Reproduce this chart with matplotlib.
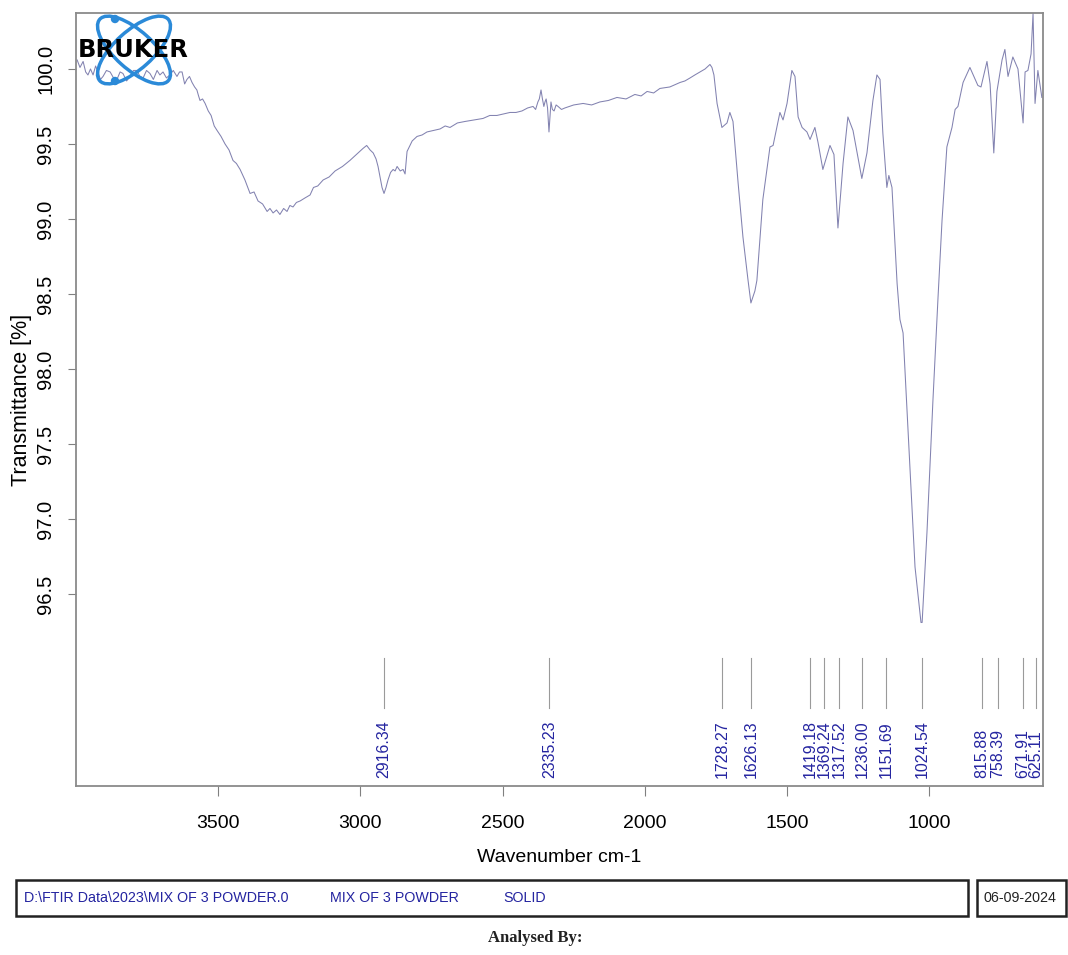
import matplotlib
matplotlib.use("Agg")
import matplotlib.pyplot as plt
from matplotlib.patches import Ellipse, Rectangle, Circle

# spectrum (wavenumber cm-1, transmittance %)
wavenumber = [
    3996, 3986, 3975, 3966, 3958, 3949, 3940, 3931, 3923, 3914, 3905, 3893,
    3880, 3868, 3856, 3845, 3835, 3822, 3810, 3798, 3786, 3775, 3764, 3752,
    3740, 3728, 3715, 3705, 3694, 3682, 3670, 3658, 3645, 3636, 3627, 3618,
    3610, 3601, 3592, 3583, 3575, 3569, 3564, 3555, 3546, 3535, 3525, 3514,
    3504, 3490, 3476, 3462, 3448, 3436, 3423, 3406, 3388, 3374, 3360, 3344,
    3328, 3318, 3307, 3295, 3283, 3270, 3258, 3248, 3237, 3225, 3212, 3195,
    3177, 3165, 3150, 3131, 3110, 3089, 3063, 3037, 3014, 2991, 2978, 2966,
    2955, 2945, 2938, 2931, 2924, 2917, 2910, 2903, 2894, 2885, 2878, 2871,
    2860, 2850, 2843, 2836, 2818, 2801, 2783, 2766, 2743, 2720, 2702, 2685,
    2659, 2632, 2601, 2569, 2545, 2520, 2497, 2474, 2453, 2432, 2412, 2393,
    2384, 2376, 2371, 2365, 2360, 2355, 2351, 2347, 2342, 2337, 2333, 2330,
    2325, 2319, 2312, 2305, 2293, 2281, 2250, 2217, 2187, 2158, 2128, 2098,
    2066, 2035, 2013, 1992, 1969, 1947, 1912, 1876, 1859, 1841, 1824, 1806,
    1788, 1771, 1764, 1757, 1746, 1729, 1711, 1701, 1690, 1672, 1655, 1637,
    1627, 1613, 1606, 1585, 1560, 1549, 1525, 1514, 1500, 1483, 1472, 1461,
    1447, 1430, 1419, 1402, 1391, 1374, 1349, 1335, 1321, 1303, 1286, 1268,
    1237, 1219, 1198, 1184, 1173, 1163, 1149, 1142, 1131, 1113, 1103, 1092,
    1068, 1050, 1029, 1025, 1008, 987, 969, 955, 938, 920, 909, 899,
    881, 857, 843, 829, 818, 797, 786, 773, 762, 744, 734, 723,
    706, 688, 670, 663, 653, 642, 635, 628, 618, 604,
]
transmittance = [
    100.06, 100.01, 100.05, 99.98, 99.96, 100.00, 99.96, 100.02, 99.98, 99.93, 99.95, 99.99,
    99.98, 99.94, 99.93, 99.98, 99.97, 99.92, 99.95, 99.99, 99.99, 99.95, 99.94, 99.99,
    99.97, 99.93, 99.99, 99.96, 99.98, 99.94, 99.96, 99.99, 99.95, 99.98, 99.98, 99.90,
    99.93, 99.95, 99.91, 99.88, 99.86, 99.82, 99.79, 99.80, 99.77, 99.72, 99.69, 99.62,
    99.59, 99.55, 99.50, 99.46, 99.39, 99.37, 99.33, 99.26, 99.17, 99.18, 99.12, 99.10,
    99.05, 99.07, 99.04, 99.06, 99.03, 99.07, 99.05, 99.09, 99.08, 99.11, 99.12, 99.14,
    99.16, 99.21, 99.22, 99.26, 99.28, 99.32, 99.35, 99.39, 99.43, 99.47, 99.49, 99.46,
    99.44, 99.40, 99.35, 99.28, 99.21, 99.17, 99.21, 99.26, 99.31, 99.33, 99.32, 99.35,
    99.32, 99.33, 99.30, 99.45, 99.52, 99.55, 99.56, 99.58, 99.59, 99.60, 99.62, 99.61,
    99.64, 99.65, 99.66, 99.67, 99.69, 99.69, 99.70, 99.71, 99.71, 99.72, 99.74, 99.75,
    99.73, 99.78, 99.80, 99.86, 99.80, 99.75, 99.78, 99.80, 99.74, 99.58, 99.70, 99.78,
    99.73, 99.72, 99.76, 99.75, 99.73, 99.74, 99.76, 99.77, 99.76, 99.78, 99.79, 99.81,
    99.80, 99.83, 99.82, 99.85, 99.84, 99.87, 99.88, 99.91, 99.92, 99.94, 99.96, 99.98,
    100.00, 100.03, 100.01, 99.96, 99.77, 99.61, 99.64, 99.71, 99.65, 99.24, 98.88, 98.59,
    98.44, 98.52, 98.59, 99.13, 99.48, 99.49, 99.71, 99.66, 99.77, 99.99, 99.95, 99.68,
    99.61, 99.58, 99.53, 99.61, 99.51, 99.33, 99.49, 99.43, 98.94, 99.37, 99.68, 99.59,
    99.27, 99.44, 99.79, 99.96, 99.93, 99.57, 99.21, 99.29, 99.21, 98.57, 98.33, 98.24,
    97.35, 96.68, 96.31, 96.31, 96.91, 97.79, 98.48, 98.99, 99.48, 99.61, 99.73, 99.75,
    99.91, 100.01, 99.95, 99.89, 99.88, 100.05, 99.90, 99.44, 99.85, 100.06, 100.13, 99.95,
    100.08, 100.00, 99.64, 99.98, 99.99, 100.10, 100.37, 99.77, 99.99, 99.81,
]

peaks = [2916.34, 2335.23, 1728.27, 1626.13, 1419.18, 1369.24, 1317.52,
         1236.00, 1151.69, 1024.54, 815.88, 758.39, 671.91, 625.11]
peak_labels = ["2916.34", "2335.23", "1728.27", "1626.13", "1419.18", "1369.24",
               "1317.52", "1236.00", "1151.69", "1024.54", "815.88", "758.39",
               "671.91", "625.11"]

x_ticks = [3500, 3000, 2500, 2000, 1500, 1000]
y_ticks = [96.5, 97.0, 97.5, 98.0, 98.5, 99.0, 99.5, 100.0]

plt.rcParams["font.family"] = ["Liberation Sans", "DejaVu Sans"]

W, H = 1068, 955
fig = plt.figure(figsize=(W / 100, H / 100), dpi=100)
ax = fig.add_axes([76 / W, 1 - 786 / H, (1043 - 76) / W, (786 - 13) / H])

ax.plot(wavenumber, transmittance, color="#8282b0", lw=0.75)
ax.set_xlim(4000, 600)
ax.set_ylim(95.22, 100.373)

dark_blue = "#2424a0"
for p, lab in zip(peaks, peak_labels):
    ax.plot([p, p], [95.74, 96.07], color="#9a9a9a", lw=0.8)
    ax.text(p, 95.27, lab, rotation=90, ha="center", va="bottom",
            fontsize=11.5, color=dark_blue)

ax.set_xticks(x_ticks)
ax.set_xticklabels([str(t) for t in x_ticks], fontsize=14)
ax.set_yticks(y_ticks)
ax.set_yticklabels([f"{t:.1f}" for t in y_ticks], rotation=90, va="center",
                   fontsize=14.5)
ax.tick_params(axis="x", length=7, color="#808080", pad=14)
ax.tick_params(axis="y", length=6, color="#808080", pad=9)
for s in ax.spines.values():
    s.set_color("#8a8a8a")
    s.set_linewidth(1.3)

ax.set_xlabel("Wavenumber cm-1", fontsize=14, labelpad=12)
ax.set_ylabel("Transmittance [%]", fontsize=15.5, labelpad=3)

# overlay in pixel coordinates for logo and footer boxes
ov = fig.add_axes([0, 0, 1, 1], zorder=5)
ov.set_xlim(0, W)
ov.set_ylim(H, 0)
ov.axis("off")
ov.patch.set_alpha(0)

logo_blue = "#2b8ad8"
ov.add_patch(Ellipse((134, 50), 92, 38, angle=42, fill=False, ec=logo_blue, lw=2.5))
ov.add_patch(Ellipse((134, 50), 92, 38, angle=-42, fill=False, ec=logo_blue, lw=2.5))
ov.add_patch(Circle((115, 19), 3.5, color=logo_blue))
ov.add_patch(Circle((115, 81), 3.5, color=logo_blue))
ov.text(133, 50, "BRUKER", ha="center", va="center", fontsize=17.5,
        fontweight="heavy", family="DejaVu Sans", color="black")

ov.add_patch(Rectangle((16, 880), 952, 36, fill=False, ec="#222222", lw=1.8))
ov.add_patch(Rectangle((977, 880), 89, 36, fill=False, ec="#222222", lw=1.8))
ov.text(24, 898, "D:\\FTIR Data\\2023\\MIX OF 3 POWDER.0", ha="left", va="center",
        fontsize=10.3, color=dark_blue)
ov.text(330, 898, "MIX OF 3 POWDER", ha="left", va="center",
        fontsize=10.3, color=dark_blue)
ov.text(503, 898, "SOLID", ha="left", va="center",
        fontsize=10.3, color=dark_blue)
ov.text(984, 898, "06-09-2024", ha="left", va="center",
        fontsize=10.3, color="#222222")
ov.text(535, 938, "Analysed By:", ha="center", va="center",
        family=["Liberation Serif", "DejaVu Serif"], fontweight="bold",
        fontsize=12, color="#222222")

fig.savefig("out.png", dpi=100)
